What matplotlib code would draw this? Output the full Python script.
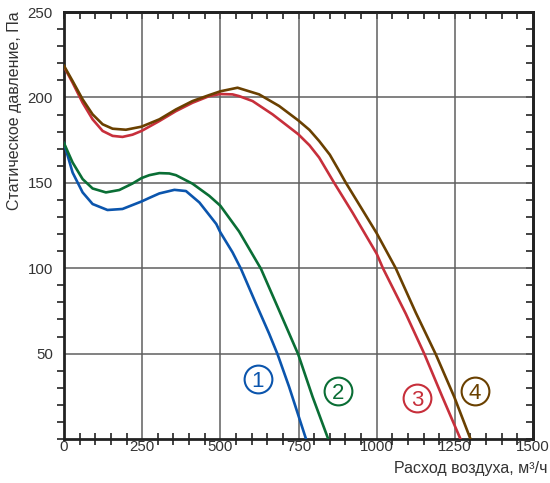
import numpy as np
import matplotlib.pyplot as plt
from matplotlib.ticker import MultipleLocator

plt.rcParams['font.family'] = ['Liberation Sans', 'DejaVu Sans']

# curve 1 (blue)
flow_1 = [0, 27.5, 59.5, 91.4, 139, 187, 248, 273, 305, 353, 390, 433, 487, 500, 539, 566, 614, 656, 683, 720, 774]
pres_1 = [173.2, 156, 144.4, 137.6, 134.1, 134.7, 139.1, 141.2, 143.8, 145.9, 145.2, 138.5, 125.9, 121, 109.3, 99.6, 79.2, 61.7, 49.6, 30.5, 0]

# curve 2 (green)
flow_2 = [0, 27.5, 59.5, 91.4, 134, 176.7, 219, 248, 273, 305, 336.6, 358, 411, 464.5, 500, 560, 630, 688, 749, 795, 845]
pres_2 = [173.2, 161.9, 152.2, 146.7, 144.4, 145.8, 149.6, 152.8, 154.5, 155.7, 155.5, 154.5, 149.5, 142.4, 136.6, 121.5, 99.6, 75.3, 49.6, 24.7, 0]

# curve 3 (red)
flow_3 = [0, 27.5, 59.5, 91.4, 123.4, 155.4, 187, 219, 248, 305, 358, 411, 464.5, 500, 539, 560, 603, 667, 749, 785, 816,
          864, 923, 1000, 1020, 1093, 1152, 1210, 1268]
pres_3 = [218, 208.6, 196.9, 187.2, 180.4, 177.5, 176.9, 178.2, 180.4, 186.2, 192, 196.9, 200.8, 202, 201.8, 200.8, 197.9,
          190.1, 178.5, 172, 164.8, 150, 132.5, 108.5, 100, 73.4, 50, 24.7, 0]

# curve 4 (brown)
flow_4 = [0, 27.5, 59.5, 91.4, 123.4, 155.4, 198, 248, 305, 358, 411, 464.5, 500, 555, 624, 688, 749, 785, 816, 850, 880,
          901.5, 950, 1000, 1061, 1125, 1189, 1248, 1300]
pres_4 = [218.5, 209.6, 198.9, 190.1, 184.3, 181.7, 181.1, 182.9, 187.2, 193, 197.9, 201.4, 203.6, 205.7, 201.8, 195,
          186.6, 181, 174.5, 166.5, 157, 150, 135.5, 120.5, 100, 74, 49.6, 24.7, 0]

labels = ['1', '2', '3', '4']
label_x = [620, 875, 1130, 1313]
label_y = [35, 28, 24, 28]
colors = ['#0b55ad', '#0a6e35', '#c72f3b', '#6a4000']

fig = plt.figure(figsize=(5.5, 4.83), dpi=100)
ax = fig.add_axes([0.1164, 0.0911, 0.8527, 0.8839])

series = [(flow_1, pres_1), (flow_2, pres_2), (flow_3, pres_3), (flow_4, pres_4)]
for (fx, py), c in zip(series, colors):
    ax.plot(fx, py, color=c, lw=1.9, solid_joinstyle='round', zorder=3)

# circled curve numbers
for t, lx, ly, c in zip(labels, label_x, label_y, colors):
    ax.plot([lx], [ly], marker='o', ms=20, mfc='none', mec=c, mew=1.5, zorder=4)
    ax.text(lx, ly, t, color=c, fontsize=16, ha='center', va='center_baseline',
            family='Liberation Sans', zorder=4)

ax.set_xlim(0, 1500)
ax.set_ylim(0, 250)

ax.xaxis.set_major_locator(MultipleLocator(250))
ax.xaxis.set_minor_locator(MultipleLocator(50))
ax.yaxis.set_major_locator(MultipleLocator(50))
ax.yaxis.set_minor_locator(MultipleLocator(10))
ax.grid(True, which='major', color='#5f5f5f', lw=1.1, zorder=1)

ax.set_yticks([50, 100, 150, 200, 250])
ax.set_xticks([0, 250, 500, 750, 1000, 1250, 1500])

ax.tick_params(axis='x', which='both', direction='inout', length=9, width=1.2,
               labelsize=10.8, pad=1, colors='#222222', labelcolor='#333333')
ax.tick_params(axis='x', which='major', length=0)
ax.tick_params(axis='y', which='both', direction='out', length=5, width=1.2,
               labelsize=10.8, pad=8, colors='#222222', labelcolor='#333333')
ax.tick_params(axis='y', which='major', length=0)

for s in ax.spines.values():
    s.set_linewidth(2.0)
    s.set_color('#222222')

# inward ticks on top and right
top = ax.secondary_xaxis('top')
top.xaxis.set_major_locator(MultipleLocator(50))
top.tick_params(direction='in', length=5, width=1.2, labeltop=False, colors='#222222')
right = ax.secondary_yaxis('right')
right.yaxis.set_major_locator(MultipleLocator(10))
right.tick_params(direction='in', length=5, width=1.2, labelright=False, colors='#222222')
for sec in (top, right):
    for s in sec.spines.values():
        s.set_linewidth(2.0)
        s.set_color('#222222')

fig.text(15 / 550, 0.977, 'Статическое давление, Па', rotation=90, ha='center', va='top',
         fontsize=11.5, color='#333333')
fig.text(548 / 550, 1 - 468 / 483, 'Расход воздуха, м³/ч', ha='right', va='center',
         fontsize=11.5, color='#333333')

fig.savefig('out.png', dpi=100)
